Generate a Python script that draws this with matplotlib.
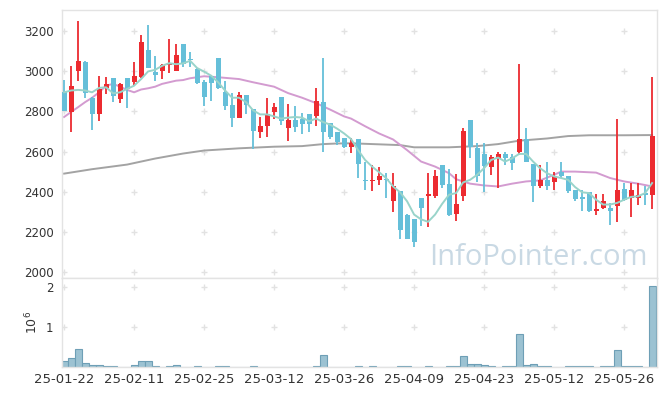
import matplotlib
matplotlib.use("Agg")
import matplotlib.pyplot as plt
import numpy as np

# trading dates shown on the x axis (every 10th session)
tick_idx = [0, 10, 20, 30, 40, 50, 60, 70, 80]
tick_labels = ["25-01-22", "25-02-11", "25-02-25", "25-03-12", "25-03-26",
               "25-04-09", "25-04-23", "25-05-12", "25-05-26"]

opens = [2895, 2797, 2999, 3047, 2868, 2785, 2915, 2968, 2863, 2968,
         2945, 2970, 3106, 2994, 3002, 3030, 2999, 3136, 3063, 3011,
         2948, 2975, 3068, 2899, 2830, 2767, 2882, 2810, 2698, 2728,
         2797, 2874, 2718, 2756, 2761, 2789, 2777, 2849, 2744, 2695,
         2667, 2624, 2662, 2456, 2451, 2456, 2463, 2352, 2402, 2286,
         2265, 2369, 2380, 2377, 2533, 2440, 2288, 2377, 2756, 2619,
         2588, 2525, 2570, 2588, 2575, 2599, 2662, 2538, 2430, 2459,
         2446, 2497, 2479, 2410, 2374, 2397, 2303, 2319, 2319, 2328,
         2415, 2368, 2367, 2395, 2384]
highs = [2956, 3027, 3249, 3050, 2870, 2976, 2971, 2968, 2940, 2968,
         3045, 3179, 3228, 3075, 3035, 3159, 3134, 3136, 3096, 3015,
         2956, 2975, 3068, 2953, 2891, 2899, 2882, 2810, 2772, 2866,
         2843, 2874, 2838, 2826, 2792, 2789, 2917, 3065, 2744, 2695,
         2667, 2665, 2662, 2550, 2533, 2525, 2492, 2492, 2402, 2290,
         2265, 2369, 2492, 2509, 2533, 2512, 2489, 2719, 2756, 2640,
         2644, 2583, 2600, 2600, 2586, 3035, 2719, 2538, 2533, 2550,
         2500, 2550, 2480, 2410, 2407, 2397, 2390, 2390, 2344, 2764,
         2443, 2443, 2443, 2428, 2970]
lows = [2800, 2698, 2950, 2868, 2706, 2751, 2887, 2849, 2841, 2818,
        2928, 2968, 3014, 2953, 2961, 2991, 2999, 3019, 3019, 2935,
        2826, 2851, 2913, 2808, 2723, 2765, 2785, 2611, 2665, 2673,
        2764, 2731, 2652, 2698, 2686, 2698, 2728, 2599, 2660, 2632,
        2620, 2591, 2468, 2410, 2402, 2431, 2369, 2300, 2163, 2163,
        2122, 2229, 2226, 2369, 2420, 2278, 2254, 2352, 2566, 2446,
        2397, 2484, 2418, 2533, 2509, 2583, 2548, 2349, 2418, 2410,
        2410, 2470, 2395, 2352, 2303, 2300, 2282, 2316, 2232, 2250,
        2356, 2275, 2333, 2336, 2315]
closes = [2802, 2928, 3052, 2891, 2785, 2912, 2937, 2879, 2937, 2909,
          2978, 3146, 3014, 2979, 3032, 3039, 3081, 3035, 3055, 2940,
          2871, 2940, 2915, 2825, 2767, 2882, 2830, 2703, 2729, 2789,
          2820, 2752, 2756, 2723, 2736, 2739, 2854, 2698, 2673, 2649,
          2624, 2640, 2537, 2453, 2459, 2476, 2456, 2426, 2209, 2166,
          2150, 2318, 2387, 2479, 2435, 2286, 2341, 2703, 2624, 2479,
          2528, 2575, 2588, 2570, 2545, 2662, 2550, 2426, 2459, 2426,
          2479, 2476, 2405, 2366, 2366, 2303, 2315, 2352, 2303, 2410,
          2361, 2408, 2383, 2384, 2677]

# volume in millions of shares
volume = [0.14, 0.23, 0.46, 0.11, 0.06, 0.06, 0.035, 0.035, 0.01, 0.01,
          0.06, 0.16, 0.16, 0.035, 0.01, 0.035, 0.06, 0.01, 0.01, 0.035,
          0.003, 0.01, 0.035, 0.035, 0.01, 0.003, 0.01, 0.035, 0.003, 0.01,
          0.01, 0.01, 0.01, 0.003, 0.01, 0.003, 0.035, 0.31, 0.01, 0.01,
          0.003, 0.003, 0.02, 0.003, 0.02, 0.002, 0.002, 0.002, 0.02, 0.02,
          0.002, 0.003, 0.02, 0.002, 0.002, 0.02, 0.02, 0.275, 0.065, 0.065,
          0.05, 0.02, 0.003, 0.02, 0.02, 0.825, 0.04, 0.065, 0.02, 0.02,
          0.003, 0.003, 0.02, 0.02, 0.02, 0.02, 0.003, 0.02, 0.02, 0.425,
          0.02, 0.02, 0.02, 0.003, 2.02]

# moving average lines
ma_short = [2895, 2904, 2907, 2904, 2895, 2917, 2920, 2890, 2895, 2912,
            2928, 2961, 2999, 3007, 3027, 3040, 3035, 3039, 3052, 3016,
            2998, 2978, 2945, 2904, 2868, 2868, 2846, 2805, 2785, 2785,
            2775, 2764, 2769, 2772, 2769, 2751, 2764, 2747, 2734, 2714,
            2690, 2662, 2607, 2558, 2525, 2497, 2468, 2426, 2397, 2352,
            2286, 2262, 2250, 2286, 2339, 2385, 2393, 2446, 2459, 2484,
            2517, 2558, 2570, 2550, 2566, 2588, 2588, 2550, 2517, 2492,
            2476, 2468, 2459, 2423, 2397, 2393, 2360, 2336, 2336, 2344,
            2360, 2374, 2377, 2393, 2443]
ma_mid_idx = [0, 1, 2, 3, 4, 5, 6, 7, 8, 9, 10, 11, 12, 13, 14, 15, 16, 17, 18,
              19, 20, 22, 25, 27, 30, 32, 34, 36, 38, 40, 41, 43, 45, 47, 49,
              51, 53, 55, 56, 58, 60, 62, 64, 66, 68, 70, 71, 73, 76, 78, 80,
              82, 84]
ma_mid = [2772, 2797, 2821, 2846, 2868, 2895, 2928, 2937, 2923, 2907, 2895,
          2909, 2915, 2923, 2937, 2945, 2953, 2956, 2965, 2970, 2975, 2970,
          2961, 2945, 2923, 2891, 2868, 2841, 2809, 2775, 2764, 2726, 2690,
          2660, 2607, 2550, 2525, 2492, 2462, 2440, 2431, 2426, 2440, 2451,
          2456, 2484, 2500, 2500, 2495, 2468, 2451, 2440, 2426]
ma_long_idx = [0, 4, 9, 13, 17, 20, 25, 30, 34, 37, 39, 41, 48, 50, 55, 59,
               62, 65, 69, 72, 75, 80, 84]
ma_long = [2490, 2512, 2535, 2565, 2590, 2605, 2616, 2624, 2627, 2637, 2640,
           2641, 2632, 2621, 2621, 2627, 2637, 2654, 2665, 2677, 2681, 2681,
           2682]

UP = "#ec2b30"
DOWN = "#65bfd9"
FRAME = "#e3e3e3"

fig = plt.figure(figsize=(6.65, 3.96), dpi=100)
ax = fig.add_axes([62 / 665, 118 / 396, 595 / 665, 268 / 396])
axv = fig.add_axes([62 / 665, 29 / 396, 595 / 665, 89 / 396], sharex=ax)

x = np.arange(len(opens))
o = np.array(opens)
c = np.array(closes)
up = c >= o
cols = np.where(up, UP, DOWN)

ax.vlines(x, lows, highs, colors=cols, lw=1.3, zorder=3)
body_h = np.maximum(np.abs(c - o), 6)
body_b = np.minimum(o, c)
ax.bar(x, body_h, bottom=body_b, width=0.74, color=cols, lw=0, zorder=4)

ax.plot(ma_long_idx, ma_long, color="#a3a3a3", lw=1.4, zorder=2)
ax.plot(ma_mid_idx, ma_mid, color="#d39bd0", lw=1.4, zorder=2)
ax.plot(x, ma_short, color="#99d4ca", lw=1.4, zorder=5)

axv.bar(x, volume, width=1.0, color="#9cc2d2", edgecolor="#6e9fb6", lw=0.8)

# grid drawn as small crosses at tick intersections
yt = [2000, 2200, 2400, 2600, 2800, 3000, 3200]
gx, gy = np.meshgrid(tick_idx, yt)
ax.scatter(gx.ravel(), gy.ravel(), marker="+", s=22, color="#e2e2e2", lw=1, zorder=1)
gx2, gy2 = np.meshgrid(tick_idx, [1, 2])
axv.scatter(gx2.ravel(), gy2.ravel(), marker="+", s=22, color="#e2e2e2", lw=1, zorder=0)

ax.set_xlim(-0.3, 84.7)
ax.set_ylim(1970, 3305)
ax.set_yticks(yt)
axv.set_ylim(0, 2.225)
axv.set_yticks([1, 2])
axv.set_xticks(tick_idx)
axv.set_xticklabels(tick_labels)

for a in (ax, axv):
    for s in a.spines.values():
        s.set_color(FRAME)
        s.set_linewidth(1)
    a.tick_params(length=0, colors="#333333", labelsize=8.5, pad=6)
ax.tick_params(labelbottom=False)
axv.tick_params(axis="x", labelsize=9.5, pad=4)

axv.text(-0.05, 0.5, "$10^6$", transform=axv.transAxes, rotation=90,
         ha="center", va="center", fontsize=9, color="#333333")

ax.text(0.985, 0.022, "InfoPointer.com", transform=ax.transAxes,
        ha="right", va="bottom", fontsize=21, color="#c9d9e4",
        family="Open Sans", zorder=0)

fig.savefig("out.png", dpi=100, facecolor="white")
